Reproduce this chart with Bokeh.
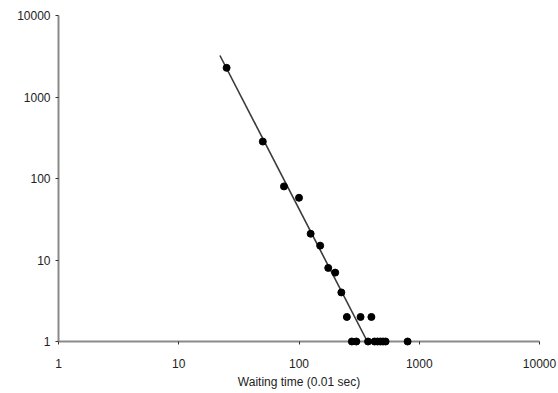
from bokeh.plotting import figure
from bokeh.models import FixedTicker, NumeralTickFormatter, Range1d
from bokeh.embed import file_html
from bokeh.resources import INLINE

# Waiting time (0.01 sec) bins and counts
waiting_time = [25, 50, 75, 100, 125, 150, 175, 200, 225, 250, 275, 300,
                325, 375, 400, 425, 450, 475, 500, 525, 800]
counts = [2280, 284, 80, 58, 21, 15, 8, 7, 4, 2, 1, 1,
          2, 1, 2, 1, 1, 1, 1, 1, 1]

# Power-law fit line end points
fit_x = [22, 370]
fit_y = [3230, 1]

x_ticks = [1, 10, 100, 1000, 10000]
y_ticks = [1, 10, 100, 1000, 10000]
x_title = "Waiting time (0.01 sec)"

p = figure(width=558, height=393, x_axis_type="log", y_axis_type="log",
           x_range=Range1d(1, 10000), y_range=Range1d(1, 10000),
           output_backend="svg", toolbar_location=None,
           min_border_left=58, min_border_right=19,
           min_border_top=15, min_border_bottom=52)

p.outline_line_color = None
p.xgrid.grid_line_color = None
p.ygrid.grid_line_color = None
p.background_fill_color = "white"
p.border_fill_color = "white"

p.line(fit_x, fit_y, line_color="#3a3a3a", line_width=1.6)
pts = p.scatter(waiting_time, counts, size=7, fill_color="black", line_color="black")
pts.level = "overlay"

for ax, ticks in ((p.xaxis[0], x_ticks), (p.yaxis[0], y_ticks)):
    ax.ticker = FixedTicker(ticks=ticks)
    ax.formatter = NumeralTickFormatter(format="0")
    ax.axis_line_color = "#8a8a8a"
    ax.axis_line_width = 2
    ax.major_tick_line_color = "#333333"
    ax.major_tick_out = 3
    ax.major_tick_in = 0
    ax.minor_tick_line_color = None
    ax.major_label_text_font = "Liberation Sans"
    ax.major_label_text_font_size = "12px"
    ax.major_label_text_color = "#222222"

p.xaxis.major_label_standoff = 14
p.yaxis.major_label_standoff = 5
p.xaxis.axis_label = x_title
p.xaxis.axis_label_text_font = "Liberation Sans"
p.xaxis.axis_label_text_font_size = "12px"
p.xaxis.axis_label_text_font_style = "normal"
p.xaxis.axis_label_text_color = "#222222"
p.xaxis.axis_label_standoff = 4

open("out.html", "w").write(file_html(p, INLINE))
